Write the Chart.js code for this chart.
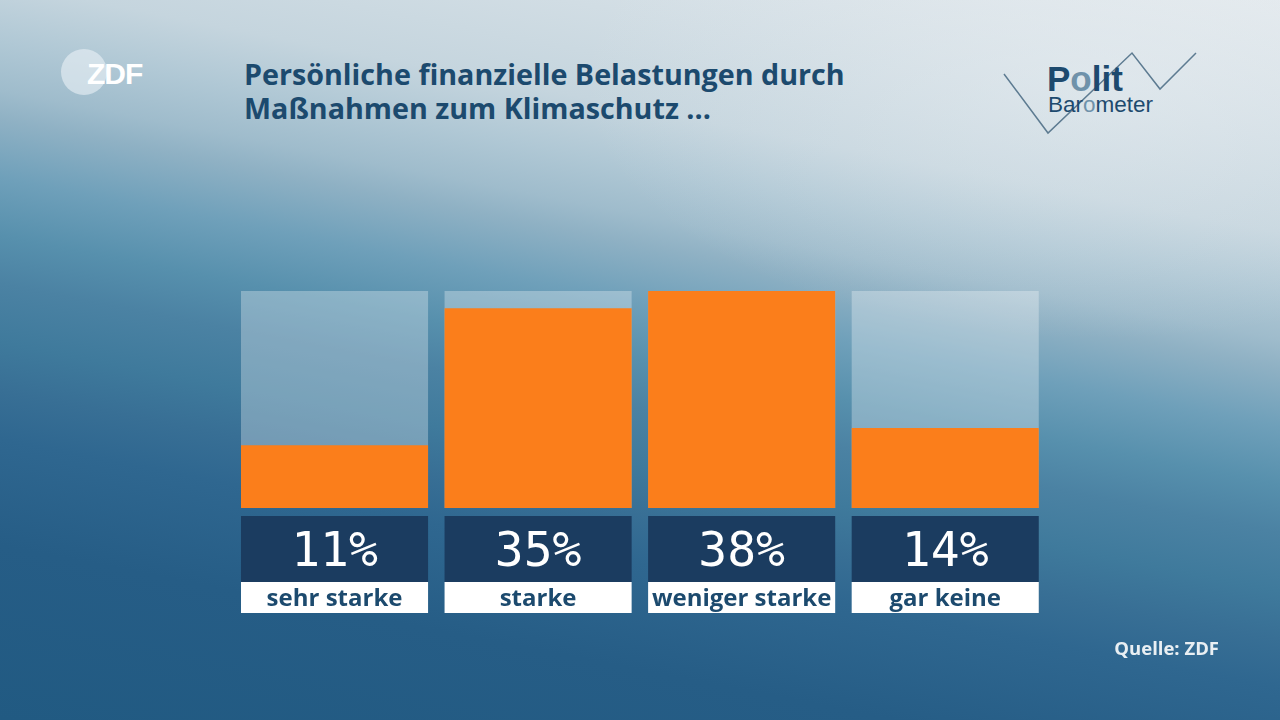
<!DOCTYPE html>
<html>
<head>
<meta charset="utf-8">
<script src="https://cdn.jsdelivr.net/npm/chart.js@4"></script>
<style>
  html, body { margin:0; padding:0; width:1280px; height:720px; overflow:hidden; }
  #stage {
    position:relative; width:1280px; height:720px;
    background:
      radial-gradient(ellipse 520px 260px at 1100px 80px, rgba(232,238,242,0.5) 0%, rgba(232,238,242,0.2) 55%, rgba(232,238,242,0) 100%),
      linear-gradient(191deg, #e3e9ed 0%, #c5d5de 24%, #b0c8d5 30%, #9fbccc 35%, #8fb1c4 38%, #6fa0ba 44%, #5790ad 50%, #4b82a3 55%, #3f7a9c 61%, #386f95 66%, #2f6790 71%, #265d86 82%, #215a82 100%);
    font-family: "Open Sans", sans-serif;
  }
  #title {
    position:absolute; left:244px; top:57px; margin:0;
    font-size:28.7px; font-weight:700; line-height:34px; color:#1c4a6e;
  }
  #source {
    position:absolute; right:61px; top:635px;
    font-size:18.5px; font-weight:700; color:#e9eff3;
  }
  canvas { position:absolute; left:0; top:0; }
  svg { position:absolute; left:0; top:0; }
</style>
</head>
<body>
<div id="stage">
  <svg width="1280" height="720">
    <circle cx="84" cy="72" r="23" fill="rgba(235,242,246,0.6)"/>
    <text x="87" y="84" font-family="Liberation Sans, Arial" font-weight="700" font-size="30" fill="#ffffff" letter-spacing="-1">ZDF</text>
    <polyline points="1004,74 1048,133 1132,53 1160,89 1196,53" fill="none" stroke="#5d7b91" stroke-width="1.5"/>
    <text x="1047" y="91" font-family="Liberation Sans, Arial" font-weight="700" font-size="35" fill="#1d4a6e">P<tspan fill="#6f92aa">o</tspan>lit</text>
    <text x="1048" y="112" font-family="Liberation Sans, Arial" font-size="22.5" fill="#1d4a6e">Bar<tspan fill="#6f92aa">o</tspan>meter</text>
  </svg>
  <h1 id="title">Persönliche finanzielle Belastungen durch<br>Maßnahmen zum Klimaschutz ...</h1>
  <canvas id="c" width="1280" height="720"></canvas>
  <div id="source">Quelle: ZDF</div>
</div>
<script>
const categories = ["sehr starke", "starke", "weniger starke", "gar keine"];
const values = [11, 35, 38, 14];
const valueLabels = ["11%", "35%", "38%", "14%"];
const trackMax = Math.max(...values);
const track = categories.map(() => trackMax);

const labelBoxes = {
  id: 'labelBoxes',
  afterDatasetsDraw(chart) {
    const ctx = chart.ctx;
    const meta = chart.getDatasetMeta(0);
    ctx.save();
    meta.data.forEach((bar, i) => {
      const w = bar.width;
      const x0 = bar.x - w / 2;
      ctx.fillStyle = '#1b3c60';
      ctx.fillRect(x0, 516, w, 66);
      ctx.fillStyle = '#ffffff';
      ctx.fillRect(x0, 582, w, 31);
      ctx.textAlign = 'center';
      ctx.textBaseline = 'alphabetic';
      ctx.fillStyle = '#ffffff';
      ctx.font = '48px "DejaVu Sans Mono"';
      ctx.fillText(valueLabels[i], bar.x, 566);
      ctx.fillStyle = '#1c4a6e';
      ctx.font = 'bold 24px "Open Sans"';
      ctx.fillText(categories[i], bar.x, 606);
    });
    ctx.restore();
  }
};

new Chart(document.getElementById('c'), {
  type: 'bar',
  data: {
    labels: categories,
    datasets: [
      { data: values, backgroundColor: '#fb7e1b', grouped: false, order: 0,
        barPercentage: 0.919, categoryPercentage: 1.0, borderWidth: 0 },
      { data: track, backgroundColor: 'rgba(255,255,255,0.3)', grouped: false, order: 1,
        barPercentage: 0.919, categoryPercentage: 1.0, borderWidth: 0 }
    ]
  },
  options: {
    responsive: false,
    animation: false,
    layout: { padding: { left: 232.75, right: 233, top: 291, bottom: 212 } },
    plugins: { legend: { display: false }, tooltip: { enabled: false } },
    scales: {
      x: { display: false },
      y: { display: false, min: 0, max: trackMax }
    }
  },
  plugins: [labelBoxes]
});
</script>
</body>
</html>
